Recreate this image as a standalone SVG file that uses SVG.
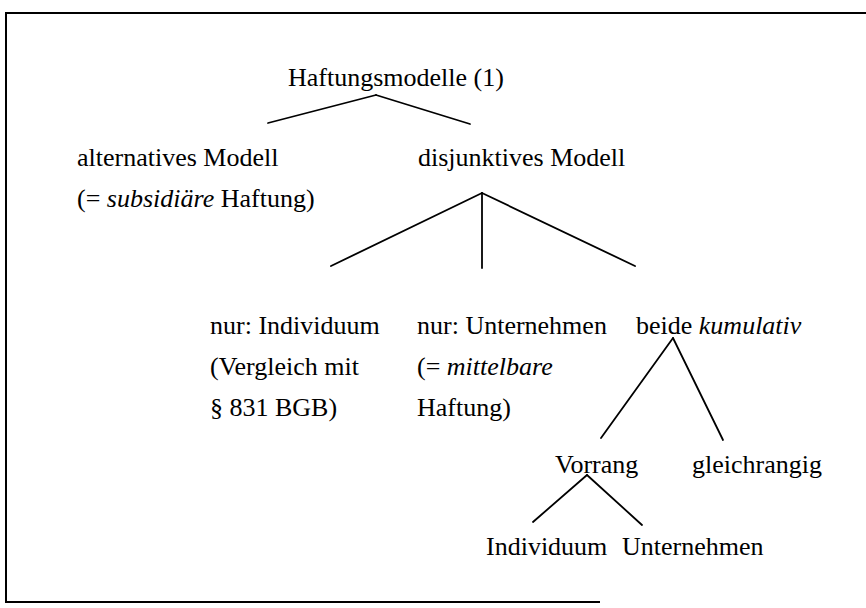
<svg xmlns="http://www.w3.org/2000/svg" width="866" height="608" viewBox="0 0 866 608">
<style>
text{font-family:"Liberation Serif","Times New Roman",serif;font-size:26px;fill:#000}
.i{font-style:italic}
.c line{stroke:#000;stroke-width:1.8;stroke-linecap:round}
.f{stroke:#000;stroke-width:2;fill:none}
</style>
<rect width="866" height="608" fill="#fff"/>
<polyline class="f" points="866,13 6,13 6,602 600,602"/>
<g class="c" id="connectors">
<line x1="268" y1="123" x2="376" y2="95"/>
<line x1="376" y1="95" x2="470" y2="124"/>
<line x1="482" y1="193" x2="331" y2="266"/>
<line x1="482" y1="193" x2="482" y2="268"/>
<line x1="482" y1="193" x2="635" y2="266"/>
<line x1="673" y1="338" x2="601" y2="438"/>
<line x1="673" y1="338" x2="723" y2="440"/>
<line x1="587" y1="475" x2="533" y2="522"/>
<line x1="587" y1="475" x2="642" y2="525"/>
</g>
<g id="root"><text x="288" y="86">Haftungsmodelle (1)</text></g>
<g id="alternativ"><text x="77" y="166">alternatives Modell</text><text x="77" y="207">(= <tspan class="i">subsidiäre</tspan> Haftung)</text></g>
<g id="disjunktiv"><text x="418" y="166">disjunktives Modell</text></g>
<g id="individuum"><text x="210" y="334">nur: Individuum</text><text x="210" y="375">(Vergleich mit</text><text x="210" y="416">§ 831 BGB)</text></g>
<g id="unternehmen"><text x="417" y="334">nur: Unternehmen</text><text x="417" y="375">(= <tspan class="i">mittelbare</tspan></text><text x="417" y="416">Haftung)</text></g>
<g id="beide"><text x="636" y="334">beide <tspan class="i">kumulativ</tspan></text></g>
<g id="vorrang"><text x="555" y="473">Vorrang</text></g>
<g id="gleichrangig"><text x="692" y="473">gleichrangig</text></g>
<g id="v-individuum"><text x="486" y="555">Individuum</text></g>
<g id="v-unternehmen"><text x="622" y="555">Unternehmen</text></g>
</svg>
